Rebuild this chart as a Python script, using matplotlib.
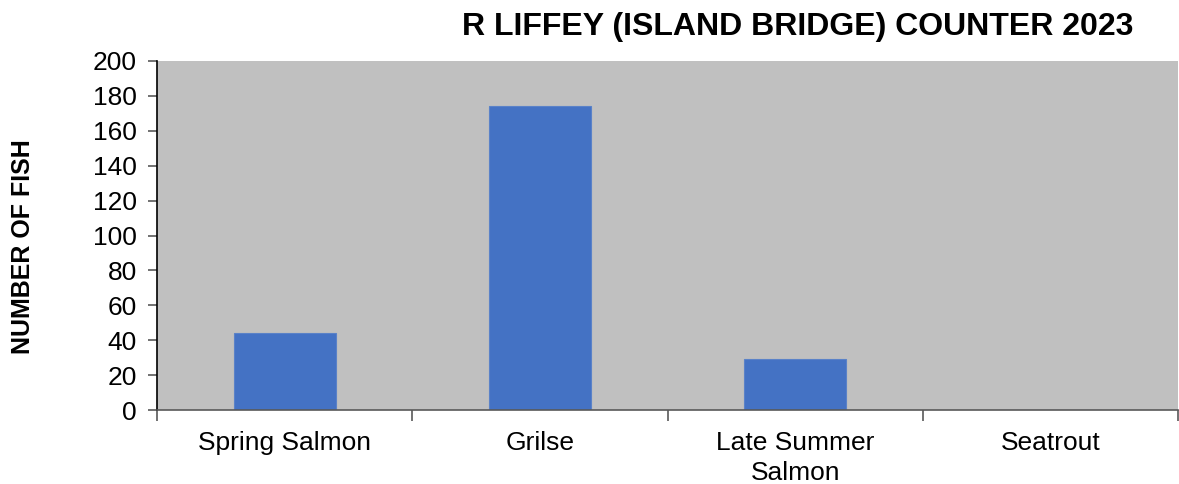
import matplotlib.pyplot as plt
import numpy as np

plt.rcParams['font.family'] = ['Liberation Sans', 'DejaVu Sans']

categories = ['Spring Salmon', 'Grilse', 'Late Summer\nSalmon', 'Seatrout']
counts = [44, 174, 29, 0]
yticks = [0, 20, 40, 60, 80, 100, 120, 140, 160, 180, 200]

fig = plt.figure(figsize=(11.79, 4.84), dpi=100)
ax = fig.add_axes([157 / 1179, 1 - 410 / 484, (1178 - 157) / 1179, 349 / 484])
ax.set_facecolor('#c0c0c0')

x = np.arange(len(categories))
ax.bar(x, counts, width=0.4, color='#4472c4', edgecolor='#5a82c8', linewidth=0.8, zorder=2)

ax.set_xlim(-0.5, len(categories) - 0.5)
ax.set_ylim(0, 200)
ax.set_yticks(yticks)
ax.tick_params(axis='y', labelsize=19, length=6.5, width=1.2, colors='#595959', labelcolor='black', pad=8)

# category labels centred between boundary ticks
ax.set_xticks(x)
ax.set_xticklabels(categories, fontsize=19, linespacing=1.35)
ax.tick_params(axis='x', length=0, pad=15)
ax.set_xticks(np.arange(len(categories) + 1) - 0.5, minor=True)
ax.tick_params(axis='x', which='minor', length=8, width=1.2, colors='#595959')

for s in ['top', 'right']:
    ax.spines[s].set_visible(False)
ax.spines['left'].set_color('black')
ax.spines['left'].set_linewidth(1.2)
ax.spines['bottom'].set_color('#595959')
ax.spines['bottom'].set_linewidth(1.2)

fig.text(23 / 1179, 1 - 247 / 484, 'NUMBER OF FISH', rotation=90, fontsize=18,
         fontweight='bold', ha='center', va='center')
fig.text(798 / 1179, 1 - 27 / 484, 'R LIFFEY (ISLAND BRIDGE) COUNTER 2023', fontsize=23,
         fontweight='bold', ha='center', va='center')

plt.savefig('out.png', dpi=100)
plt.close()
